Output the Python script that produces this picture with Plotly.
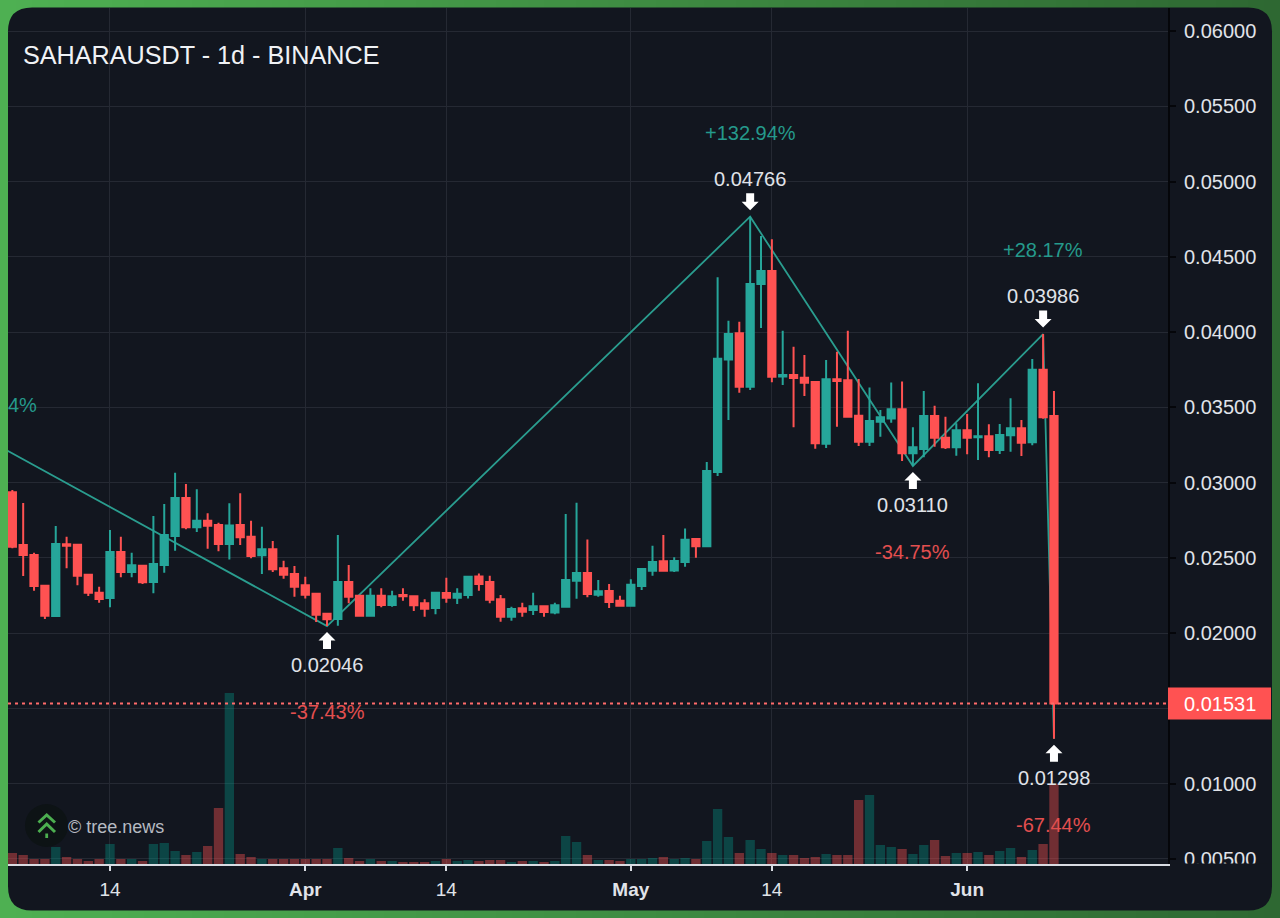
import pandas as pd
import plotly.graph_objects as go

# Daily SAHARAUSDT candles
first_day = "2026-03-05"
opens = [0.02935,0.02585,0.02518,0.02314,0.02113,0.02589,0.02586,0.02387,0.02268,0.02233,
         0.02538,0.02405,0.02447,0.02339,0.02452,0.02644,0.02897,0.02702,0.02746,0.02717,
         0.02591,0.02717,0.02640,0.02516,0.02556,0.02430,0.02392,0.02317,0.02261,0.02128,
         0.02093,0.02339,0.02248,0.02115,0.02248,0.02186,0.02252,0.02244,0.02197,0.02166,
         0.02266,0.02234,0.02252,0.02376,0.02339,0.02224,0.02108,0.02164,0.02153,0.02177,
         0.02137,0.02175,0.02348,0.02399,0.02254,0.02279,0.02215,0.02181,0.02312,0.02414,
         0.02476,0.02416,0.02472,0.02624,0.02576,0.03070,0.03818,0.03991,0.03636,0.04319,
         0.04405,0.03705,0.03714,0.03696,0.03668,0.03258,0.03686,0.03679,0.03444,0.03271,
         0.03404,0.03426,0.03487,0.03194,0.03222,0.03442,0.03298,0.03234,0.03347,0.03300,
         0.03307,0.03216,0.03314,0.03360,0.03267,0.03749,0.03442]
closes = [0.02573,0.02518,0.02312,0.02115,0.02591,0.02580,0.02381,0.02268,0.02226,0.02538,
          0.02405,0.02450,0.02337,0.02458,0.02651,0.02897,0.02702,0.02746,0.02713,0.02591,
          0.02715,0.02636,0.02511,0.02556,0.02423,0.02387,0.02308,0.02254,0.02121,0.02091,
          0.02339,0.02241,0.02115,0.02248,0.02186,0.02244,0.02244,0.02184,0.02161,0.02268,
          0.02234,0.02261,0.02374,0.02325,0.02221,0.02108,0.02159,0.02141,0.02177,0.02139,
          0.02184,0.02352,0.02399,0.02259,0.02277,0.02206,0.02181,0.02321,0.02425,0.02472,
          0.02414,0.02478,0.02620,0.02576,0.03076,0.03822,0.03987,0.03636,0.04319,0.04405,
          0.03703,0.03714,0.03694,0.03663,0.03260,0.03686,0.03674,0.03437,0.03271,0.03408,
          0.03433,0.03487,0.03194,0.03234,0.03442,0.03298,0.03234,0.03347,0.03298,0.03307,
          0.03216,0.03315,0.03360,0.03264,0.03749,0.03433,0.01531]
highs = [0.02950,0.02864,0.02534,0.02319,0.02711,0.02640,0.02587,0.02392,0.02308,0.02684,
         0.02640,0.02534,0.02452,0.02777,0.02857,0.03065,0.02990,0.02955,0.02795,0.02733,
         0.02862,0.02928,0.02746,0.02706,0.02611,0.02480,0.02445,0.02374,0.02264,0.02135,
         0.02651,0.02452,0.02252,0.02297,0.02297,0.02281,0.02297,0.02248,0.02224,0.02270,
         0.02367,0.02297,0.02378,0.02396,0.02380,0.02252,0.02175,0.02201,0.02268,0.02179,
         0.02201,0.02791,0.02866,0.02622,0.02352,0.02325,0.02248,0.02357,0.02430,0.02580,
         0.02651,0.02503,0.02695,0.02629,0.03136,0.04363,0.04075,0.04068,0.04766,0.04638,
         0.04616,0.04008,0.03902,0.03847,0.03670,0.03814,0.03869,0.04008,0.03688,0.03632,
         0.03482,0.03664,0.03671,0.03367,0.03608,0.03510,0.03437,0.03393,0.03455,0.03659,
         0.03387,0.03389,0.03559,0.03415,0.03820,0.03986,0.03608]
lows = [0.02563,0.02379,0.02281,0.02093,0.02112,0.02430,0.02317,0.02246,0.02201,0.02171,
        0.02370,0.02370,0.02325,0.02264,0.02400,0.02547,0.02689,0.02671,0.02560,0.02543,
        0.02489,0.02585,0.02496,0.02392,0.02405,0.02361,0.02241,0.02230,0.02073,0.02046,
        0.02048,0.02197,0.02113,0.02108,0.02171,0.02175,0.02215,0.02146,0.02108,0.02124,
        0.02201,0.02193,0.02230,0.02281,0.02197,0.02075,0.02081,0.02108,0.02119,0.02108,
        0.02124,0.02171,0.02228,0.02237,0.02241,0.02166,0.02177,0.02177,0.02286,0.02381,
        0.02412,0.02405,0.02440,0.02500,0.02575,0.03043,0.03415,0.03597,0.03614,0.04026,
        0.03666,0.03648,0.03367,0.03575,0.03224,0.03229,0.03371,0.03430,0.03242,0.03242,
        0.03304,0.03397,0.03143,0.03110,0.03167,0.03238,0.03222,0.03178,0.03187,0.03149,
        0.03167,0.03189,0.03204,0.03176,0.03247,0.03424,0.01298]
# Traded volume, millions of tokens
volumes = [11,9,5,5,17,7,5,3,5,20,5,5,3,20,21,13,9,12,18,56,171,10,7,5,5,5,5,5,5,5,16,6,3,5,3,3,
           2,2,2,3,5,3,4,3,4,4,2,3,3,2,3,28,22,9,4,4,3,5,5,6,7,5,6,5,23,55,27,11,24,15,11,9,9,6,
           7,10,9,9,64,69,19,17,15,10,19,24,8,11,11,12,9,13,16,7,14,20,80]

# Swing line between major turning points
swing_dates = ["2026-03-01", "2026-04-03", "2026-05-12", "2026-05-27", "2026-06-08", "2026-06-09"]
swing_prices = [0.03352, 0.02046, 0.04766, 0.03110, 0.03986, 0.01298]
# Swing annotations: date, pivot price, price label, % change, arrow side
swing_notes = [
    ("2026-04-03", 0.02046, "0.02046", "-37.43%", "up"),
    ("2026-05-12", 0.04766, "0.04766", "+132.94%", "down"),
    ("2026-05-27", 0.03110, "0.03110", "-34.75%", "up"),
    ("2026-06-08", 0.03986, "0.03986", "+28.17%", "down"),
    ("2026-06-09", 0.01298, "0.01298", "-67.44%", "up"),
]
last_price = 0.01531

tick_dates = ["2026-03-14", "2026-04-01", "2026-04-14", "2026-05-01", "2026-05-14", "2026-06-01"]
tick_labels = ["14", "<b>Apr</b>", "14", "<b>May</b>", "14", "<b>Jun</b>"]
price_ticks = [0.005 * k for k in range(1, 13)]
# The last price tag sits on the 0.015 level, so that tick carries no text of its own
price_tick_text = ["" if k == 3 else f"{0.005 * k:.5f}" for k in range(1, 13)]

BG = "#12161f"
GRID = "#252933"
UP = "#26a69a"
DOWN = "#ff5252"
TEXT = "#e0e3e9"
UP_TEXT = "#259a8c"
DOWN_TEXT = "#e34f4f"
FONT = "Liberation Sans"

# Plot rectangle inside the page, in pixels
LEFT, RIGHT, TOP, BOTTOM = 8, 1168, 8, 864
def px(x):
    return (x - LEFT) / (RIGHT - LEFT)
def py(y):
    return (BOTTOM - y) / (BOTTOM - TOP)

dates = pd.date_range(first_day, periods=len(opens), freq="D")
bar_colors = ["rgba(0,166,150,0.33)" if c >= o else "rgba(255,82,82,0.40)" for o, c in zip(opens, closes)]

fig = go.Figure()
fig.add_trace(go.Bar(x=dates, y=volumes, marker=dict(color=bar_colors, line=dict(width=0)),
                     yaxis="y", hoverinfo="skip"))
fig.add_trace(go.Scatter(x=swing_dates, y=swing_prices, mode="lines",
                         line=dict(color="#2a9d8f", width=1.8), yaxis="y2", hoverinfo="skip"))
fig.add_trace(go.Candlestick(x=dates, open=opens, high=highs, low=lows, close=closes,
                             increasing=dict(line=dict(color=UP, width=2), fillcolor=UP),
                             decreasing=dict(line=dict(color=DOWN, width=2), fillcolor=DOWN),
                             whiskerwidth=0, yaxis="y3"))

shapes = []
# Green frame fading from left to right
STRIPS = 80
c0, c1 = (78, 176, 82), (46, 104, 50)
for k in range(STRIPS):
    t = k / (STRIPS - 1)
    col = tuple(round(a + (b - a) * t) for a, b in zip(c0, c1))
    x0 = 1280 * k / STRIPS
    x1 = 1280 * (k + 1) / STRIPS + 1
    shapes.append(dict(type="rect", xref="paper", yref="paper", layer="below", line=dict(width=0),
                       x0=px(x0), x1=px(x1), y0=py(918), y1=py(0), fillcolor=f"rgb{col}"))

# Rounded dark card
l, r, t, b, rad = 8, 1272, 7.5, 910.5, 24
card = (f"M {px(l + rad)} {py(t)} L {px(r - rad)} {py(t)} Q {px(r)} {py(t)} {px(r)} {py(t + rad)} "
        f"L {px(r)} {py(b - rad)} Q {px(r)} {py(b)} {px(r - rad)} {py(b)} "
        f"L {px(l + rad)} {py(b)} Q {px(l)} {py(b)} {px(l)} {py(b - rad)} "
        f"L {px(l)} {py(t + rad)} Q {px(l)} {py(t)} {px(l + rad)} {py(t)} Z")
shapes.append(dict(type="path", xref="paper", yref="paper", layer="below", path=card,
                   fillcolor=BG, line=dict(width=0)))

# Hides the lower part of the lowest price label below the time axis
shapes.append(dict(type="rect", xref="paper", yref="paper", layer="above", line=dict(width=0),
                   x0=px(1171), x1=px(1268), y0=py(863.5), y1=py(885), fillcolor=BG))

# Last price marker
shapes.append(dict(type="line", xref="paper", yref="y2", layer="above", x0=0, x1=1, y0=last_price, y1=last_price,
                   line=dict(color="#ff6b6b", width=2, dash="3px,4px")))
shapes.append(dict(type="rect", xref="paper", yref="y2", layer="above", ysizemode="pixel", yanchor=last_price,
                   x0=px(1168), x1=px(1271), y0=-16, y1=16, fillcolor=DOWN, line=dict(width=0)))

# Pivot arrows
UP_ARROW = "M 0 -6 L 8.5 -14.5 L 4 -14.5 L 4 -23 L -4 -23 L -4 -14.5 L -8.5 -14.5 Z"
DOWN_ARROW = "M 0 6.5 L 8.5 15 L 4 15 L 4 23.5 L -4 23.5 L -4 15 L -8.5 15 Z"
annotations = []
def label(x, y, text, color, yshift=0, size=20, xanchor="center", **kw):
    annotations.append(dict(x=x, y=y, text=text, showarrow=False, yshift=yshift, xanchor=xanchor,
                            yanchor="middle", font=dict(family=FONT, size=size, color=color), **kw))

for day, price, value, pct, side in swing_notes:
    shapes.append(dict(type="path", xref="x", yref="y2", layer="above", xsizemode="pixel", ysizemode="pixel",
                       xanchor=day, yanchor=price, path=UP_ARROW if side == "up" else DOWN_ARROW,
                       fillcolor="#ffffff", line=dict(width=0)))
    near, far = (-39, -86) if side == "up" else (38, 84)
    label(day, price, value, TEXT, yshift=near, xref="x", yref="y2")
    label(day, price, pct, UP_TEXT if pct[0] == "+" else DOWN_TEXT, yshift=far, xref="x", yref="y2")

label(px(1219.5), last_price, f"{last_price:.5f}", "#ffffff", xref="paper", yref="y2")
label(px(6), py(405), "4%", UP_TEXT, xref="paper", yref="paper", xanchor="left")
label(px(21), py(55), "SAHARAUSDT - 1d - BINANCE", "#f0f2f5", size=25.2, xref="paper", yref="paper", xanchor="left")
label(px(66), py(827), "\u00a9 tree.news", "#b6bac2", size=18, xref="paper", yref="paper", xanchor="left")

# Watermark logo
shapes.append(dict(type="circle", xref="paper", yref="paper", layer="above", line=dict(width=0),
                   x0=px(25), x1=px(68), y0=py(847), y1=py(804), fillcolor="#0d1315"))
for seg in ([(38.5, 822.5), (46.7, 815), (55, 822.5)], [(38.5, 832), (46.7, 824), (55, 832)]):
    pth = "M " + " L ".join(f"{px(a)} {py(c)}" for a, c in seg)
    shapes.append(dict(type="path", xref="paper", yref="paper", layer="above", path=pth,
                       line=dict(color="#4caf50", width=3)))
shapes.append(dict(type="rect", xref="paper", yref="paper", layer="above", line=dict(width=0),
                   x0=px(45.3), x1=px(48.1), y0=py(838), y1=py(833.5), fillcolor="#4caf50"))

price_range = [0.06206 - BOTTOM * 6.6445e-5, 0.06206 - TOP * 6.6445e-5]
fig.update_layout(
    width=1280, height=918, autosize=False, showlegend=False,
    margin=dict(l=LEFT, r=1280 - RIGHT, t=TOP, b=918 - BOTTOM, pad=0),
    paper_bgcolor="#3f8f44", plot_bgcolor="rgba(0,0,0,0)",
    barmode="overlay", bargap=0.14, boxgap=0.33, boxgroupgap=0,
    font=dict(family=FONT, color=TEXT),
    xaxis=dict(type="date", range=["2026-03-04 14:24", "2026-06-19 12:14"], anchor="y",
               rangeslider=dict(visible=False), tickmode="array", tickvals=tick_dates, ticktext=tick_labels,
               tickfont=dict(family=FONT, size=19, color=TEXT), ticks="outside", ticklen=5, tickwidth=2,
               tickcolor="#d8dbe2", showline=True, linecolor="#d8dbe2", linewidth=2,
               showgrid=True, gridcolor=GRID, gridwidth=1, zeroline=False, ticklabelstandoff=2),
    yaxis=dict(range=[0, BOTTOM - TOP], visible=False, fixedrange=True),
    yaxis2=dict(overlaying="y", side="right", anchor="x", range=price_range, tickmode="array",
                tickvals=price_ticks, ticktext=price_tick_text,
                tickfont=dict(family=FONT, size=20, color=TEXT), ticks="outside", ticklen=6, tickwidth=2,
                tickcolor="#05060a", showline=True, linecolor="#05060a", linewidth=2,
                showgrid=True, gridcolor=GRID, gridwidth=1, zeroline=False, ticklabelstandoff=4),
    yaxis3=dict(overlaying="y", range=price_range, visible=False),
    shapes=shapes, annotations=annotations,
)
fig.write_html("out.html", config=dict(displayModeBar=False))
